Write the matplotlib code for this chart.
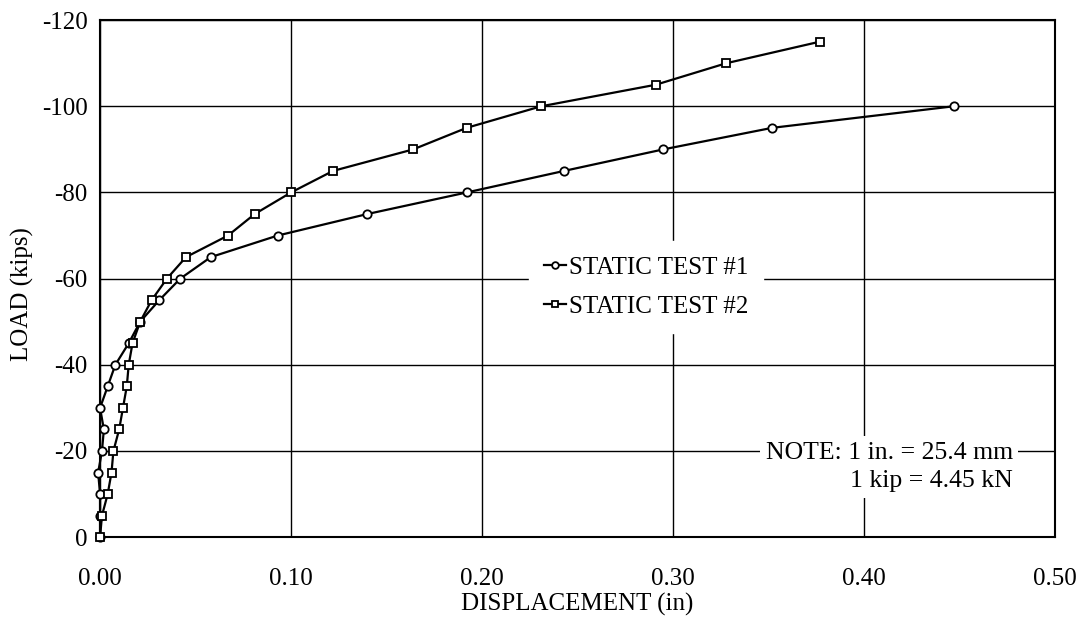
import matplotlib
matplotlib.use("Agg")
import matplotlib.pyplot as plt

# displacement (in) and load (kips)
load_1 = [0, -5, -10, -15, -20, -25, -30, -35, -40, -45, -50, -55, -60, -65,
          -70, -75, -80, -85, -90, -95, -100]
disp_1 = [0.000, 0.000, 0.000, -0.001, 0.001, 0.002, 0.000, 0.004, 0.008, 0.015,
          0.021, 0.031, 0.042, 0.058, 0.093, 0.140, 0.192, 0.243, 0.295, 0.352, 0.447]

load_2 = [0, -5, -10, -15, -20, -25, -30, -35, -40, -45, -50, -55, -60, -65,
          -70, -75, -80, -85, -90, -95, -100, -105, -110, -115]
disp_2 = [0.000, 0.001, 0.004, 0.006, 0.007, 0.010, 0.012, 0.014, 0.015, 0.017,
          0.021, 0.027, 0.035, 0.045, 0.067, 0.081, 0.100, 0.122, 0.164, 0.192,
          0.231, 0.291, 0.328, 0.377]

x_ticks = [0.0, 0.1, 0.2, 0.3, 0.4, 0.5]
y_ticks = [0, -20, -40, -60, -80, -100, -120]

plt.rcParams["font.family"] = ["Liberation Serif", "DejaVu Serif"]
plt.rcParams["axes.unicode_minus"] = False

fig = plt.figure(figsize=(10.84, 6.29), dpi=100)
ax = fig.add_axes([0.0923, 0.146, 0.8807, 0.822])

ax.plot(disp_1, load_1, color="black", lw=1.6, marker="o", ms=6,
        mfc="white", mec="black", mew=1.3, label="STATIC TEST #1",
        clip_on=False, zorder=3)
ax.plot(disp_2, load_2, color="black", lw=1.6, marker="s", ms=6,
        mfc="white", mec="black", mew=1.3, label="STATIC TEST #2",
        clip_on=False, zorder=3)

ax.set_xlim(0, 0.5)
ax.set_ylim(0, -120)
ax.set_xticks(x_ticks)
ax.set_xticklabels([f"{t:.2f}" for t in x_ticks])
ax.set_yticks(y_ticks)
ax.set_yticklabels([str(t) for t in y_ticks])
ax.tick_params(length=0, labelsize=18)
ax.tick_params(axis="x", pad=22)
ax.tick_params(axis="y", pad=9)
ax.grid(True, color="black", lw=1.0)
ax.set_axisbelow(True)
for s in ax.spines.values():
    s.set_linewidth(1.5)

ax.set_xlabel("DISPLACEMENT (in)", fontsize=18, labelpad=2)
ax.set_ylabel("LOAD (kips)", fontsize=18)
ax.yaxis.set_label_coords(-0.069, 0.47)

leg = ax.legend(loc="center", bbox_to_anchor=(0.572, 0.484), fontsize=18,
                frameon=True, fancybox=False, framealpha=1, facecolor="white",
                edgecolor="white", handlelength=0.9, handletextpad=0.1,
                labelspacing=0.65, borderpad=0.6, markerscale=0.8)
leg.set_zorder(5)

ax.text(0.478, -16.3, "NOTE: 1 in. = 25.4 mm\n1 kip = 4.45 kN", fontsize=18.5,
        ha="right", va="center", multialignment="right", linespacing=1.35,
        bbox=dict(facecolor="white", edgecolor="none", pad=4), zorder=5)

fig.savefig("out.png", dpi=100)
